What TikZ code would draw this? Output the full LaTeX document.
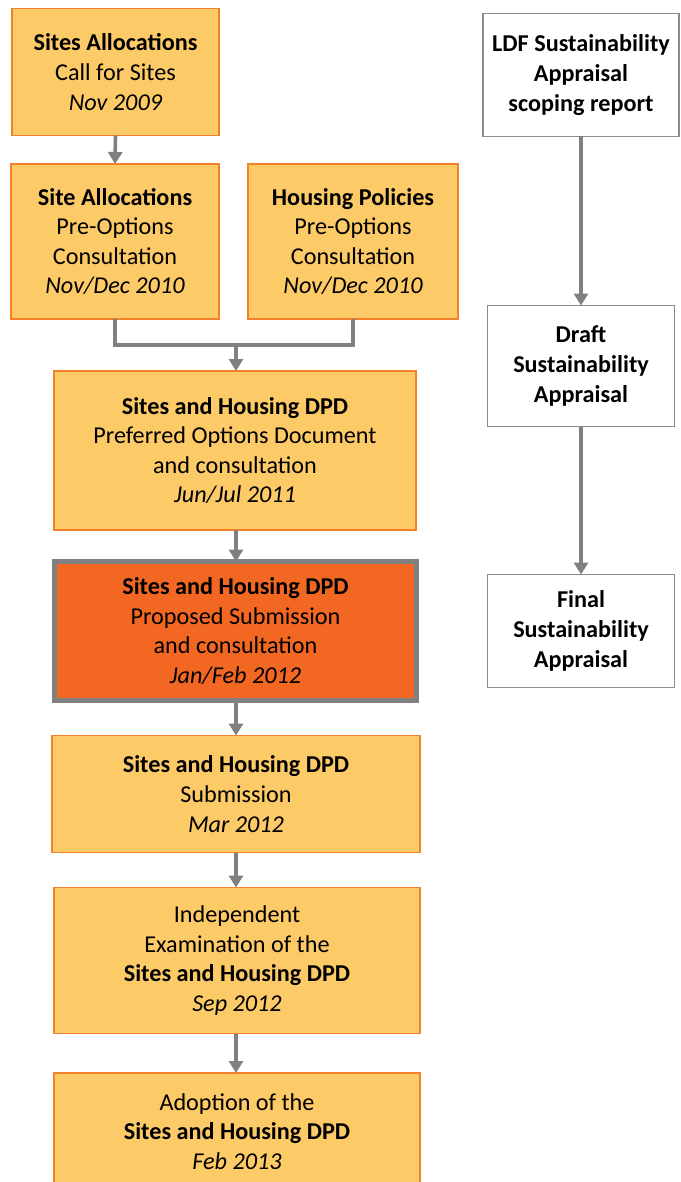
\documentclass[tikz,border=0pt]{standalone}
\usepackage{fontspec}
\setmainfont{Carlito}
\usetikzlibrary{arrows.meta}
\definecolor{boxfill}{RGB}{253,202,104}
\definecolor{boxline}{RGB}{245,128,42}
\definecolor{hotfill}{RGB}{242,103,34}
\definecolor{arrgray}{RGB}{128,128,128}
\definecolor{sagray}{RGB}{140,140,140}
\tikzset{
  base/.style={inner sep=0pt, outer sep=0pt, align=center, font=\fontsize{24.2}{29.6}\selectfont},
  stage/.style={base, draw=boxline, fill=boxfill, line width=1.5pt},
  hot/.style={base, draw=arrgray, fill=hotfill, line width=5pt},
  sabox/.style={base, draw=sagray, fill=white, line width=1.5pt},
  conn/.style={draw=arrgray, line width=3.6pt},
  arr/.style={conn, -{Triangle[width=14pt,length=12pt]}}
}
\begin{document}
\begin{tikzpicture}[x=1pt,y=-1pt]
\useasboundingbox (0,0) rectangle (680,1182);
\fill[white] (0,0) rectangle (680,1182);
% main column
\node[stage, minimum width=207pt, minimum height=127pt] (b1) at (115.5,72)
  {\textbf{Sites Allocations}\\Call for Sites\\\textit{Nov 2009}};
\node[stage, minimum width=208pt, minimum height=155pt] (b2) at (115,241.5)
  {\textbf{Site Allocations}\\Pre-Options\\Consultation\\\textit{Nov/Dec 2010}};
\node[stage, minimum width=210pt, minimum height=155pt] (b3) at (353,241.5)
  {\textbf{Housing Policies}\\Pre-Options\\Consultation\\\textit{Nov/Dec 2010}};
\node[stage, minimum width=362pt, minimum height=159pt] (b4) at (235,450.5)
  {\textbf{Sites and Housing DPD}\\Preferred Options Document\\and consultation\\\textit{Jun/Jul 2011}};
\node[hot, minimum width=362pt, minimum height=139pt] (b5) at (235.5,631)
  {\textbf{Sites and Housing DPD}\\Proposed Submission\\and consultation\\\textit{Jan/Feb 2012}};
\node[stage, minimum width=368pt, minimum height=117pt] (b6) at (236,794)
  {\textbf{Sites and Housing DPD}\\Submission\\\textit{Mar 2012}};
\node[stage, minimum width=366pt, minimum height=146pt] (b7) at (237,960.5)
  {Independent\\Examination of the\\\textbf{Sites and Housing DPD}\\\textit{Sep 2012}};
\node[stage, minimum width=366pt, minimum height=117pt] (b8) at (237,1131.5)
  {Adoption of the\\\textbf{Sites and Housing DPD}\\\textit{Feb 2013}};
% sustainability appraisal column
\node[sabox, minimum width=196pt, minimum height=123pt] (r1) at (581,75)
  {\textbf{LDF Sustainability}\\\textbf{Appraisal}\\\textbf{scoping report}};
\node[sabox, minimum width=187pt, minimum height=121pt] (r2) at (581,366)
  {\textbf{Draft}\\\textbf{Sustainability}\\\textbf{Appraisal}};
\node[sabox, minimum width=187pt, minimum height=113pt] (r3) at (581,631)
  {\textbf{Final}\\\textbf{Sustainability}\\\textbf{Appraisal}};
% connectors
\coordinate (ax) at (236,0);
\coordinate (m) at (236,345);
\draw[arr] (b1.south) -- (b2.north);
\draw[conn, line join=miter] (b2.south) |- (m) -| (b3.south);
\draw[arr] (m) -- (b4.north -| m);
\draw[arr] (b4.south -| ax) -- (b5.north -| ax);
\draw[arr] (b5.south -| ax) -- (b6.north -| ax);
\draw[arr] (b6.south -| ax) -- (b7.north -| ax);
\draw[arr] (b7.south -| ax) -- (b8.north -| ax);
\draw[arr] (r1.south) -- (r2.north);
\draw[arr] (r2.south) -- (r3.north);
\end{tikzpicture}
\end{document}
